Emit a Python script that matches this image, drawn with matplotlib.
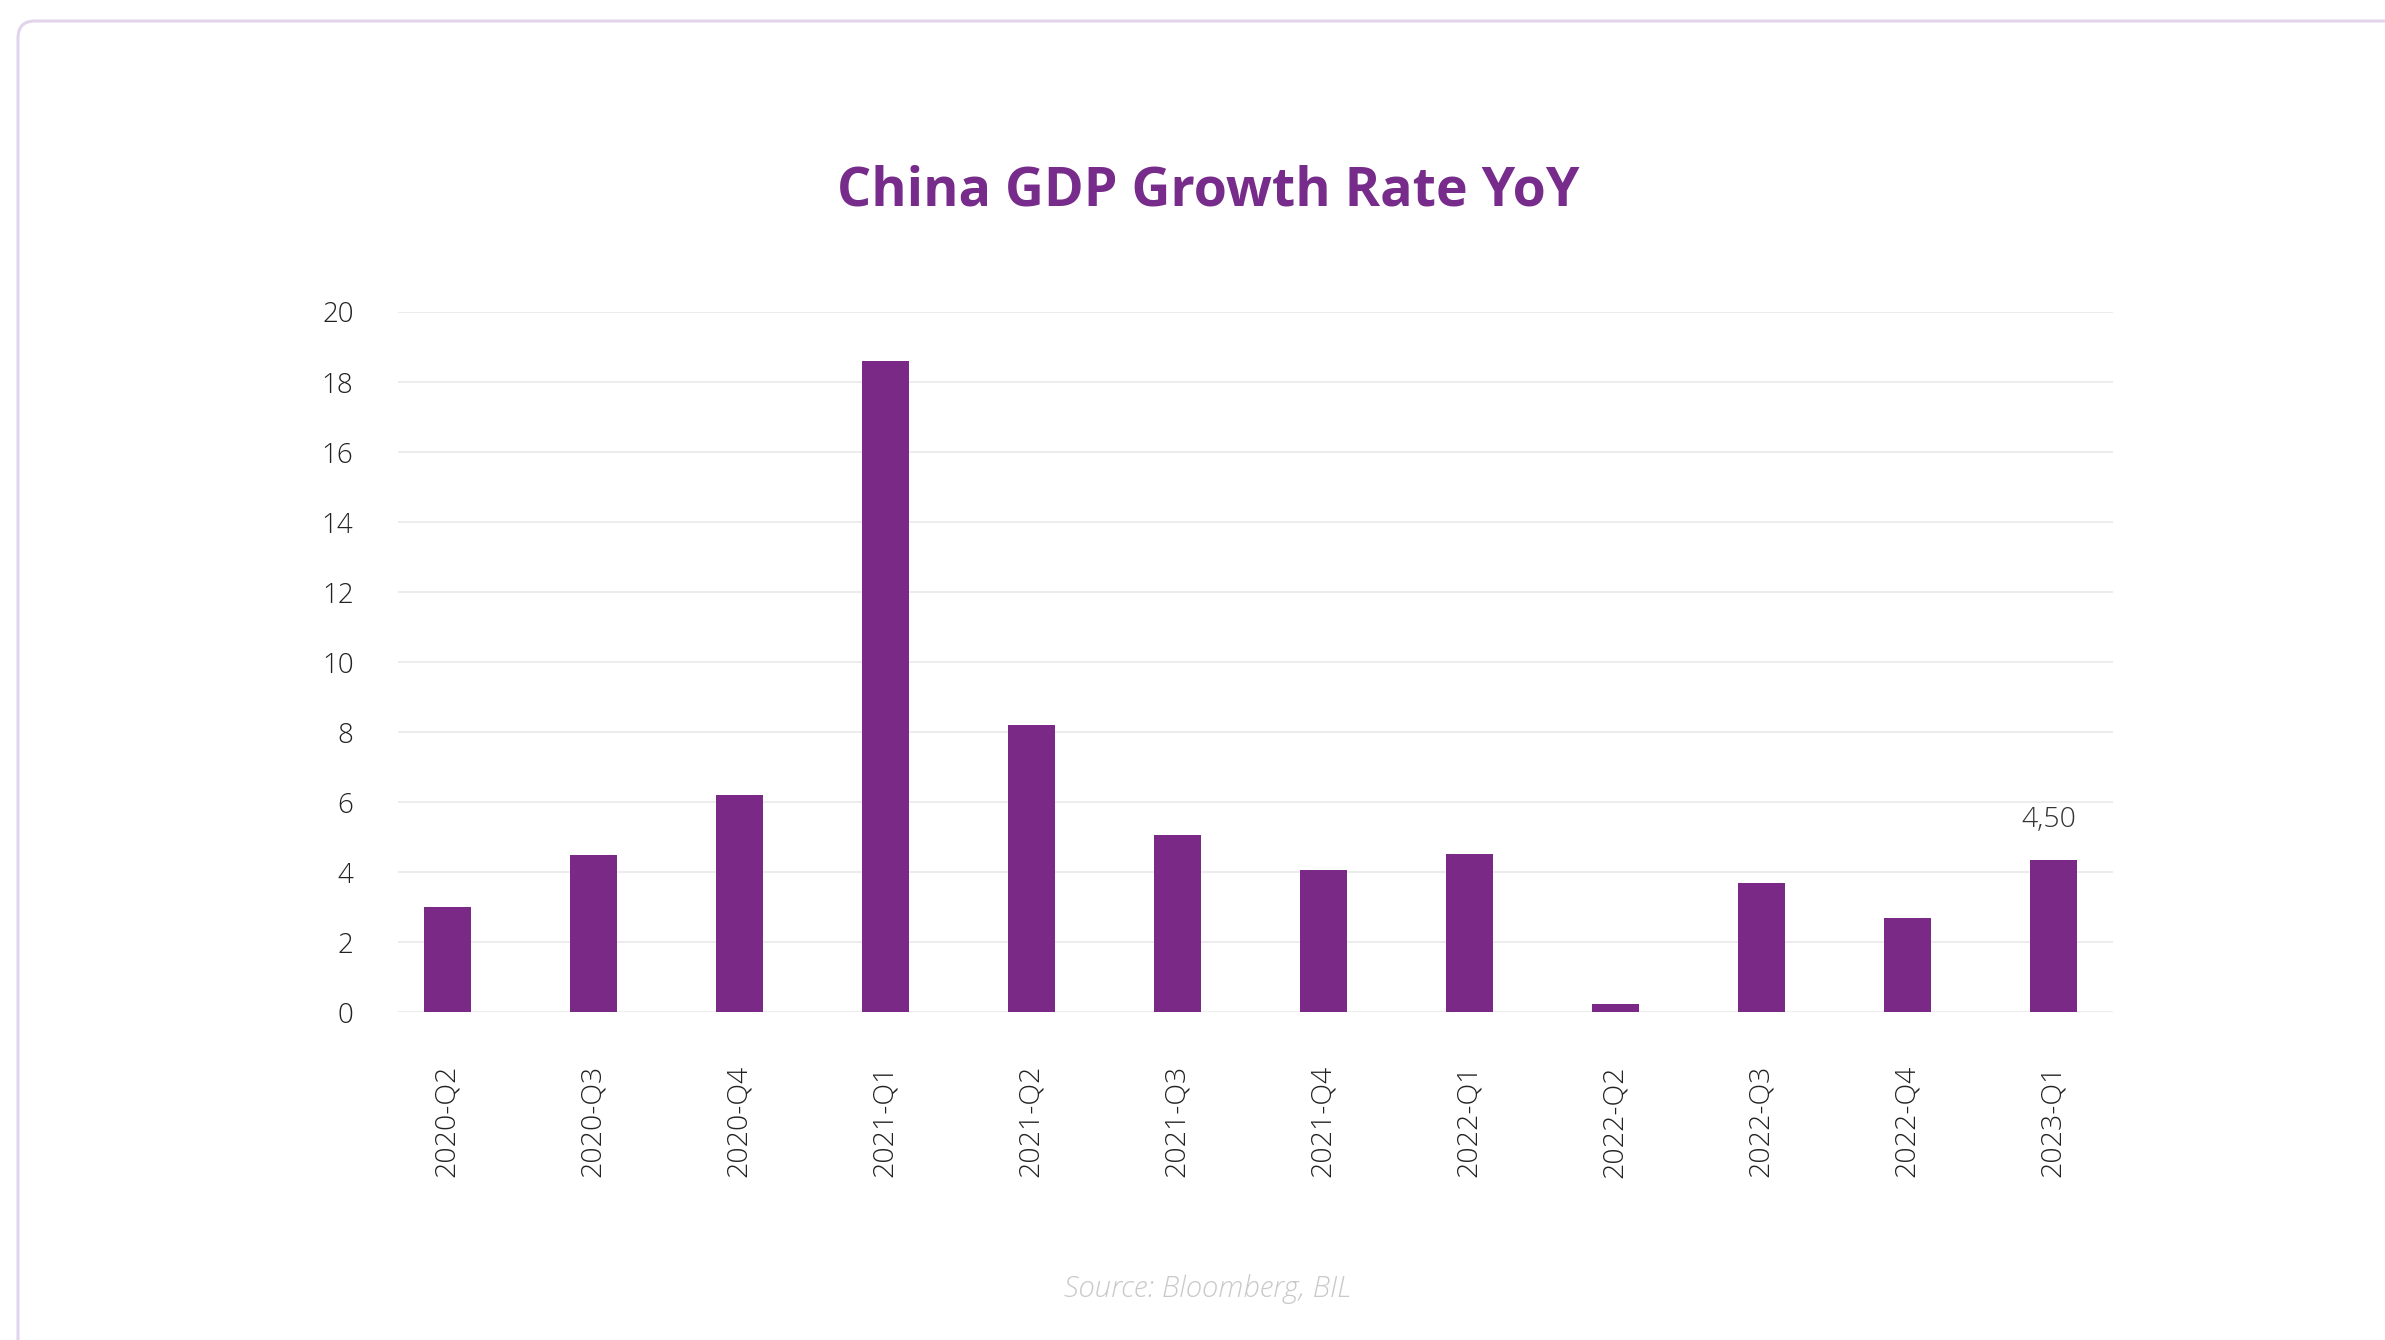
import matplotlib
matplotlib.use("Agg")
import matplotlib.pyplot as plt
from matplotlib.patches import FancyBboxPatch

# quarters and YoY growth (%)
quarters = ["2020-Q2", "2020-Q3", "2020-Q4", "2021-Q1", "2021-Q2", "2021-Q3",
            "2021-Q4", "2022-Q1", "2022-Q2", "2022-Q3", "2022-Q4", "2023-Q1"]
growth = [3.0, 4.5, 6.2, 18.6, 8.2, 5.05, 4.05, 4.53, 0.25, 3.7, 2.7, 4.35]
last_label = "4,50"
y_ticks = [0, 2, 4, 6, 8, 10, 12, 14, 16, 18, 20]

purple = "#7a2a86"
plt.rcParams["font.family"] = ["Open Sans", "DejaVu Sans"]

W, H = 2385, 1340
fig = plt.figure(figsize=(W / 100, H / 100), dpi=100)
fig.patch.set_facecolor("white")

# rounded card border, drawn in pixel units on a background axes
bg = fig.add_axes([0, 0, 1, 1], zorder=-1)
bg.set_xlim(0, W)
bg.set_ylim(H, 0)
bg.axis("off")
card = FancyBboxPatch((18, 21), W + 40, H + 40,
                      boxstyle="round,pad=0,rounding_size=17",
                      facecolor="white", edgecolor="#e2d4ec", linewidth=2.2)
bg.add_patch(card)

ax = fig.add_axes([398 / W, 1 - 1012.3 / H, 1715 / W, (1012.3 - 312) / H])
x = list(range(len(quarters)))
ax.bar(x, growth, width=0.32, color=purple, zorder=3)
ax.set_xlim(-0.338, 11.41)
ax.set_ylim(0, 20)
ax.set_yticks(y_ticks)
ax.set_xticks(x)
ax.set_xticklabels(quarters, rotation=90, fontsize=20.5, fontweight="light", color="#222222")
for lbl in ax.get_yticklabels():
    lbl.set_fontsize(20)
    lbl.set_fontweight("light")
    lbl.set_color("#222222")
ax.tick_params(axis="both", length=0)
ax.tick_params(axis="x", pad=38)
ax.tick_params(axis="y", pad=32)
ax.grid(axis="y", color="#ebebeb", linewidth=1.3, zorder=0)
for s in ax.spines.values():
    s.set_visible(False)
ax.set_facecolor("none")

ax.annotate(last_label, (x[-1], growth[-1]), xytext=(-3, 19), textcoords="offset points",
            ha="center", va="bottom", fontsize=20.5, fontweight="light", color="#333333")

fig.text(1208 / W, 1 - 191 / H, "China GDP Growth Rate YoY", ha="center", va="center",
         fontsize=38.7, fontweight="bold", color="#772b8a")
fig.text(1207 / W, 1 - 1289 / H, "Source: Bloomberg, BIL", ha="center", va="center",
         fontsize=21.2, fontstyle="italic", fontweight="light", color="#c9c9c9")

fig.savefig("out.png", dpi=100)
